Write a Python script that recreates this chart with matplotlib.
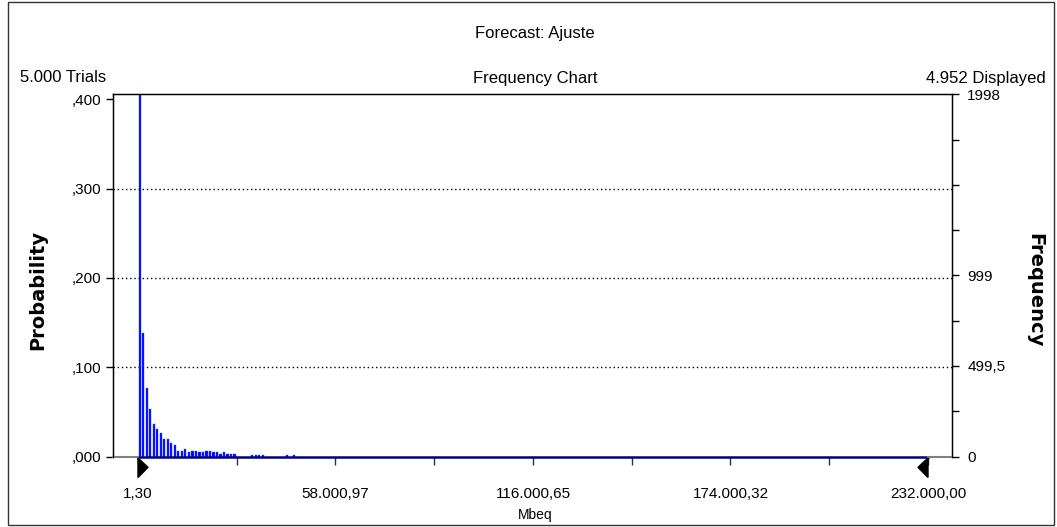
import numpy as np
import matplotlib
matplotlib.use('Agg')
import matplotlib.pyplot as plt
from matplotlib.patches import Polygon, Rectangle
from matplotlib.transforms import blended_transform_factory

W, H = 1057, 527

# ── Forecast data ─────────────────────────────────────────────────────────────
x_min, x_max = 1.30, 232000.00
n_bins = 225
trials = 5000
displayed = 4952
freq_max = 1998

# frequency per bin (bins not listed are empty)
bin_idx = [0, 1, 2, 3, 4, 5, 6, 7, 8, 9, 10, 11, 12, 13, 14, 15, 16, 17, 18, 19,
           20, 21, 22, 23, 24, 25, 26, 27, 32, 33, 34, 35, 42, 44]
bin_freq = [1998, 684, 379, 263, 177, 149, 131, 99, 94, 72, 63, 33, 33, 42, 24, 33,
            33, 24, 24, 33, 33, 24, 24, 15, 24, 15, 15, 15, 9, 9, 9, 9, 9, 9]

prob_ticks = [0.0, 0.1, 0.2, 0.3, 0.4]
prob_labels = [',000', ',100', ',200', ',300', ',400']
freq_ticks = [0, 499.5, 999, 1998]
freq_labels = ['0', '499,5', '999', '1998']
x_ticks = [1.30, 58000.97, 116000.65, 174000.32, 232000.00]
x_labels = ['1,30', '58.000,97', '116.000,65', '174.000,32', '232.000,00']

plt.rcParams['font.family'] = ['Liberation Sans', 'DejaVu Sans']

def fx(px):
    return px / W

def fy(py):
    return 1 - py / H

fig = plt.figure(figsize=(W / 100, H / 100), dpi=100)
fig.patch.set_facecolor('white')

# outer frame
fig.add_artist(Rectangle((fx(8), fy(525)), fx(1054) - fx(8), fy(2) - fy(525),
                         transform=fig.transFigure, fill=False, ec='#333333', lw=1))

left, right, top, bottom = 112.7, 952, 94.3, 456.5
ax = fig.add_axes([fx(left), fy(bottom), fx(right) - fx(left), fy(top) - fy(bottom)])

# x scale: 1,30 at px 138, 232.000,00 at px 928
upp = (x_max - x_min) / (928 - 138)
ax.set_xlim(x_min - (138 - left) * upp, x_max + (right - 928) * upp)
ax.set_ylim(0, freq_max / 4927)

bw = (x_max - x_min) / n_bins
centers = x_min + (np.array(bin_idx) + 0.5) * bw
probs = np.array(bin_freq) / 4927
ax.bar(centers, probs, width=bw * 0.62, color='#0000ff', edgecolor='#3355ff',
       lw=0.3, zorder=3)

for yv in [0.1, 0.2, 0.3]:
    ax.axhline(yv, color='black', ls=(0, (1, 2)), lw=1, zorder=1)

# baseline: navy across the forecast range, grey outside
ax.plot([x_min, x_max], [0, 0], color='#000080', lw=1.8, zorder=4, clip_on=False)
xl = ax.get_xlim()
ax.plot([xl[0], x_min], [0, 0], color='#808080', lw=1.5, zorder=4, clip_on=False)
ax.plot([x_max, xl[1]], [0, 0], color='#808080', lw=1.5, zorder=4, clip_on=False)

ax.spines['bottom'].set_visible(False)
for s in ['left', 'top', 'right']:
    ax.spines[s].set_linewidth(1.0)

ax.set_yticks(prob_ticks)
ax.set_yticklabels(prob_labels)
ax.tick_params(axis='y', direction='out', length=5, width=1, labelsize=11, pad=3)

minor_x = np.linspace(x_min, x_max, 9)
ax.set_xticks(x_ticks)
ax.set_xticklabels(x_labels)
ax.set_xticks(minor_x, minor=True)
ax.tick_params(axis='x', which='both', direction='out', length=6, width=1,
               color='#333333', labelsize=11, pad=16)

# certainty grabbers
tr = blended_transform_factory(ax.transData, ax.transAxes)
gw = 10 * upp
ax.add_patch(Polygon([[x_min, -0.004], [x_min + gw, -0.03], [x_min, -0.058]],
                     closed=True, color='black', transform=tr, clip_on=False, zorder=5))
ax.add_patch(Polygon([[x_max, -0.004], [x_max - gw, -0.03], [x_max, -0.058]],
                     closed=True, color='black', transform=tr, clip_on=False, zorder=5))

ax2 = ax.twinx()
ax2.set_ylim(0, freq_max)
ax2.set_yticks(freq_ticks)
ax2.set_yticklabels(freq_labels)
ax2.set_yticks(np.linspace(0, freq_max, 9), minor=True)
ax2.tick_params(axis='y', which='both', direction='out', length=5, width=1, labelsize=11, pad=6)
ax2.spines['bottom'].set_visible(False)

fig.text(fx(535), fy(34), 'Forecast: Ajuste', ha='center', va='center', fontsize=12)
fig.text(fx(20), fy(78), '5.000 Trials', ha='left', va='center', fontsize=12)
fig.text(fx(535), fy(78), 'Frequency Chart', ha='center', va='center', fontsize=12)
fig.text(fx(1046), fy(78), f'{displayed // 1000}.{displayed % 1000:03d} Displayed',
         ha='right', va='center', fontsize=12)
fig.text(fx(535), fy(515), 'Mbeq', ha='center', va='center', fontsize=10)
fig.text(fx(38), fy(290), 'Probability', ha='center', va='center', rotation=90,
         fontsize=14, fontweight='bold', family='DejaVu Sans')
fig.text(fx(1035), fy(290), 'Frequency', ha='center', va='center', rotation=270,
         fontsize=14, fontweight='bold', family='DejaVu Sans')

fig.savefig('out.png', dpi=100)
